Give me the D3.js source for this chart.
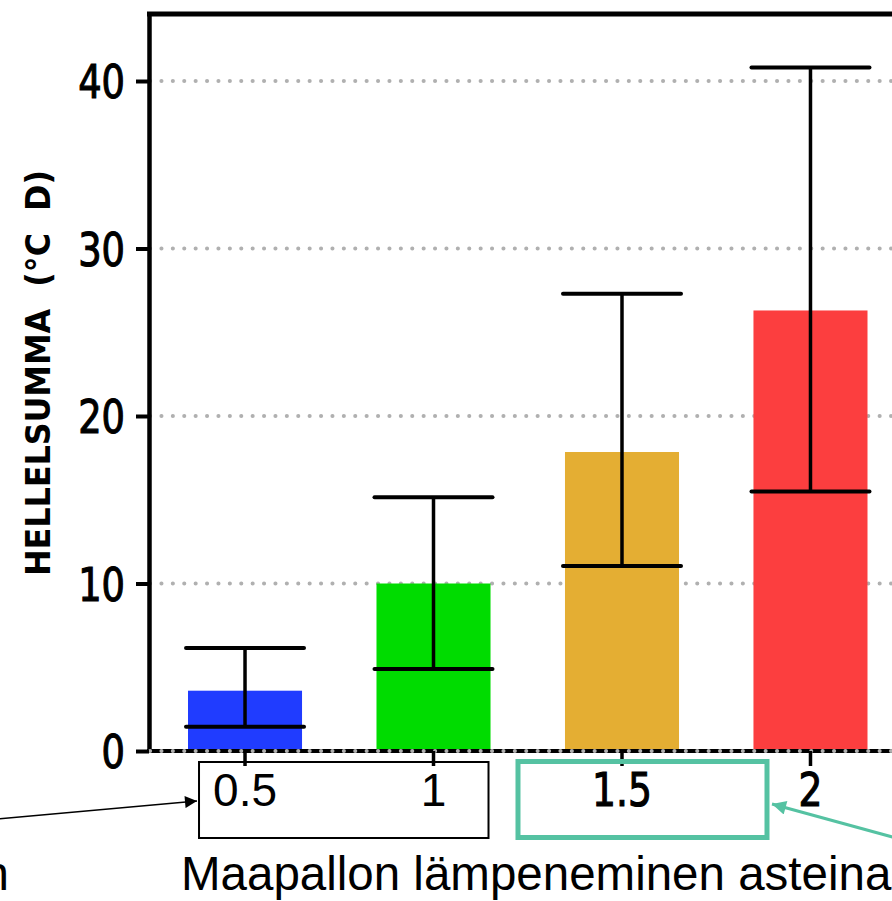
<!DOCTYPE html>
<html>
<head>
<meta charset="utf-8">
<script src="https://cdn.jsdelivr.net/npm/d3@7"></script>
<style>
  html, body { margin: 0; padding: 0; background: #fff; overflow: hidden; }
  svg { display: block; }
</style>
</head>
<body>
<svg id="chart" width="892" height="901"></svg>
<script>
// ---- data ----
const categories = ["0.5", "1", "1.5", "2"];
const barValues = [3.6, 10.0, 17.85, 26.3];
const medianValues = [1.45, 4.9, 11.05, 15.5];
const upperValues = [6.15, 15.15, 27.3, 40.8];
const barColors = ["#203cff", "#00dc00", "#e4ae33", "#fc3e3f"];
const yTicks = [0, 10, 20, 30, 40];
const yLabel = "HELLELSUMMA  (°C  D)";
const xTitle = "Maapallon lämpeneminen asteina";
const boxedCategories = ["0.5", "1"];
const highlightedCategory = "1.5";

const chartFont = "'DejaVu Sans', sans-serif";
const slideFont = "'Liberation Sans', Arial, sans-serif";
const squeeze = 0.8;

const svg = d3.select("#chart");

const y = d3.scaleLinear().domain([0, 44]).range([751, 14]);
const x = d3.scaleBand().domain(categories)
  .range([150, 905.5]).paddingInner(0.395).paddingOuter(0.2016);
const cx = d => x(d) + x.bandwidth() / 2;

// gridlines
svg.append("g").selectAll("line").data(yTicks).join("line")
  .attr("x1", 150).attr("x2", 892)
  .attr("y1", d => y(d)).attr("y2", d => y(d))
  .attr("stroke", "#b0b0b0").attr("stroke-width", 4)
  .attr("stroke-linecap", "round").attr("stroke-dasharray", "0.1 11.3");

// bars
const data = categories.map((c, i) => ({c, v: barValues[i], m: medianValues[i], u: upperValues[i], col: barColors[i]}));
svg.append("g").selectAll("rect").data(data).join("rect")
  .attr("x", d => x(d.c)).attr("width", x.bandwidth())
  .attr("y", d => y(d.v)).attr("height", d => y(0) - y(d.v))
  .attr("fill", d => d.col);

// whiskers
const capW = 118;
const wg = svg.append("g").attr("stroke", "#000");
wg.selectAll("line.v").data(data).join("line").attr("class", "v")
  .attr("x1", d => cx(d.c)).attr("x2", d => cx(d.c))
  .attr("y1", d => y(d.m)).attr("y2", d => y(d.u)).attr("stroke-width", 3.5);
wg.selectAll("line.cap").data(data).join("line").attr("class", "cap")
  .attr("x1", d => cx(d.c) - capW / 2).attr("x2", d => cx(d.c) + capW / 2)
  .attr("y1", d => y(d.u)).attr("y2", d => y(d.u)).attr("stroke-width", 4).attr("stroke-linecap", "round");
wg.selectAll("line.med").data(data).join("line").attr("class", "med")
  .attr("x1", d => cx(d.c) - capW / 2).attr("x2", d => cx(d.c) + capW / 2)
  .attr("y1", d => y(d.m)).attr("y2", d => y(d.m)).attr("stroke-width", 4).attr("stroke-linecap", "round");

// frame: left axis and top line
svg.append("line").attr("x1", 149.5).attr("x2", 149.5).attr("y1", 12).attr("y2", 753)
  .attr("stroke", "#000").attr("stroke-width", 4.5);
svg.append("line").attr("x1", 147).attr("x2", 892).attr("y1", 14).attr("y2", 14)
  .attr("stroke", "#000").attr("stroke-width", 5);

// x axis baseline (black) with dotted grid on top
svg.append("line").attr("x1", 147).attr("x2", 892).attr("y1", y(0)).attr("y2", y(0))
  .attr("stroke", "#000").attr("stroke-width", 4);
svg.append("line").attr("x1", 150).attr("x2", 892).attr("y1", y(0)).attr("y2", y(0))
  .attr("stroke", "#b0b0b0").attr("stroke-width", 4)
  .attr("stroke-linecap", "round").attr("stroke-dasharray", "0.1 11.3");

// y axis
const yAxis = svg.append("g").attr("transform", "translate(149,0)")
  .call(d3.axisLeft(y).tickValues(yTicks).tickSize(13).tickPadding(11));
yAxis.select(".domain").remove();
yAxis.selectAll(".tick line").attr("stroke", "#000").attr("stroke-width", 4);
yAxis.selectAll(".tick text").attr("font-family", chartFont)
  .attr("font-size", 46).attr("fill", "#000").attr("stroke", "#000").attr("stroke-width", 1.2)
  .attr("dy", "0.36em")
  .attr("x", -24 / squeeze).attr("transform", `scale(${squeeze},1)`);

// x axis
const xAxis = svg.append("g").attr("transform", `translate(0,${y(0)})`)
  .call(d3.axisBottom(x).tickSize(15).tickPadding(6));
xAxis.select(".domain").remove();
xAxis.selectAll(".tick line").attr("stroke", "#000").attr("stroke-width", 3.5);
xAxis.selectAll(".tick text").attr("font-family", chartFont)
  .attr("font-size", 47).attr("fill", "#000").attr("stroke", "#000").attr("stroke-width", 1.2)
  .attr("dy", "0.72em").attr("transform", `scale(${squeeze},1)`);
xAxis.selectAll(".tick text").filter(d => boxedCategories.includes(d))
  .attr("font-family", slideFont).attr("font-size", 46).attr("stroke", "none")
  .attr("transform", null).attr("dy", "0.74em");

// y label
svg.append("text")
  .attr("transform", "translate(50,373) rotate(-90)")
  .attr("text-anchor", "middle")
  .attr("font-family", chartFont).attr("font-weight", "bold").attr("font-size", 34)
  .attr("textLength", 406).attr("lengthAdjust", "spacingAndGlyphs")
  .attr("xml:space", "preserve")
  .text(yLabel);

// annotation boxes
const b0 = boxedCategories[0], b1 = boxedCategories[boxedCategories.length - 1];
svg.append("rect").attr("x", cx(b0) - 46).attr("y", 762)
  .attr("width", cx(b1) + 55 - (cx(b0) - 46)).attr("height", 76)
  .attr("fill", "none").attr("stroke", "#000").attr("stroke-width", 2);
svg.append("rect").attr("x", cx(highlightedCategory) - 104).attr("y", 761.5)
  .attr("width", 249).attr("height", 76)
  .attr("fill", "none").attr("stroke", "#55c2a2").attr("stroke-width", 5);

// arrows
const defs = svg.append("defs");
defs.append("marker").attr("id", "arrBlack").attr("viewBox", "0 0 10 10")
  .attr("refX", 10).attr("refY", 5).attr("markerWidth", 14).attr("markerHeight", 12)
  .attr("markerUnits", "userSpaceOnUse").attr("orient", "auto")
  .append("path").attr("d", "M0,0 L10,5 L0,10 Z").attr("fill", "#000");
defs.append("marker").attr("id", "arrTeal").attr("viewBox", "0 0 10 10")
  .attr("refX", 10).attr("refY", 5).attr("markerWidth", 18).attr("markerHeight", 14)
  .attr("markerUnits", "userSpaceOnUse").attr("orient", "auto")
  .append("path").attr("d", "M0,0 L10,5 L0,10 Z").attr("fill", "#55c2a2");
svg.append("line").attr("x1", -2).attr("y1", 819).attr("x2", 197).attr("y2", 801)
  .attr("stroke", "#000").attr("stroke-width", 1.5).attr("marker-end", "url(#arrBlack)");
svg.append("line").attr("x1", 896).attr("y1", 838).attr("x2", 772).attr("y2", 804)
  .attr("stroke", "#55c2a2").attr("stroke-width", 3).attr("marker-end", "url(#arrTeal)");

// slide texts
svg.append("text").attr("x", 181).attr("y", 890)
  .attr("font-family", slideFont).attr("font-size", 47.5).attr("fill", "#000")
  .text(xTitle);
svg.append("text").attr("x", 9).attr("y", 890).attr("text-anchor", "end")
  .attr("font-family", slideFont).attr("font-size", 47.5).attr("fill", "#000")
  .text("n");
</script>
</body>
</html>
